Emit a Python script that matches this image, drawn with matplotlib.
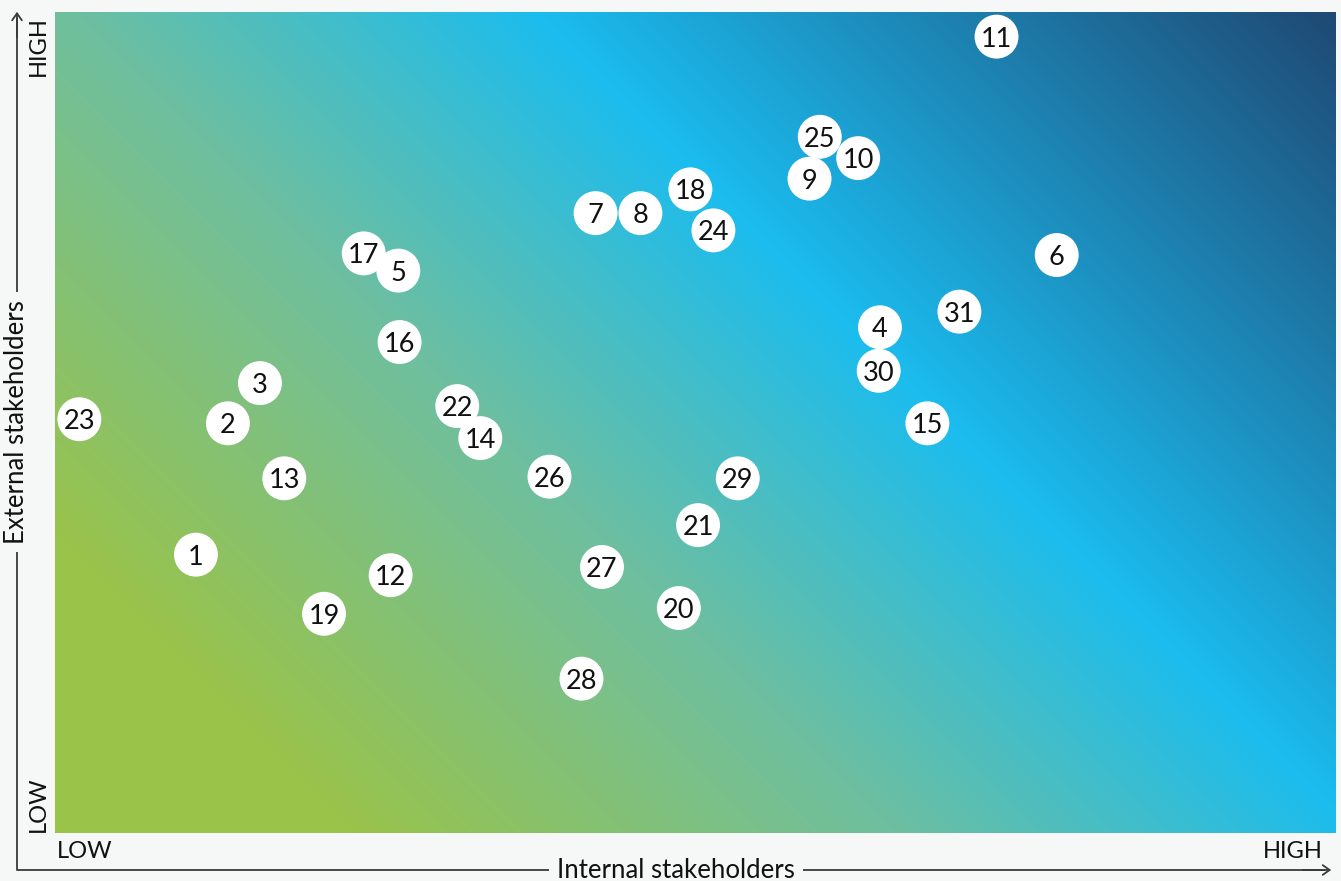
import matplotlib.pyplot as plt
import numpy as np

# Issue ids and their position (internal, external) on a 0-100 scale
labels = [str(i) for i in range(1, 32)]
internal = [11.0, 13.5, 16.0, 64.4, 26.8, 78.2, 42.2, 45.7, 58.9, 62.7,
            73.5, 26.2, 17.9, 33.2, 68.1, 26.9, 24.1, 49.6, 21.0, 48.7,
            50.2, 31.4, 1.9, 51.4, 59.7, 38.6, 42.7, 41.1, 53.3, 64.3, 70.6]
external = [33.9, 49.9, 54.8, 61.6, 68.5, 70.4, 75.5, 75.5, 79.7, 82.2,
            97.0, 31.4, 43.2, 48.1, 49.9, 59.8, 70.6, 78.4, 26.7, 27.4,
            37.5, 52.0, 50.4, 73.4, 84.8, 43.4, 32.4, 18.8, 43.2, 56.3, 63.5]

BG = "#f6f7f7"
FONT = ["Lato", "DejaVu Sans"]
plt.rcParams["font.family"] = FONT

W, H = 1341, 881
fig = plt.figure(figsize=(W / 100, H / 100), dpi=100, facecolor=BG)

# plot area in pixels
x0, x1, ytop, ybot = 55, 1336, 12, 833
ax = fig.add_axes([x0 / W, (H - ybot) / H, (x1 - x0) / W, (ybot - ytop) / H])

# 45 degree gradient: green -> cyan -> navy
pw, ph = x1 - x0, ybot - ytop
gx, gy = np.meshgrid(np.arange(pw), np.arange(ph)[::-1])
t = (gx + gy) / (pw + ph)
stops = [0.0, 0.14, 0.40, 0.62, 1.0]
cols = np.array([[154, 195, 74], [154, 195, 74], [110, 191, 160],
                 [27, 188, 239], [31, 72, 115]]) / 255
img = np.dstack([np.interp(t, stops, cols[:, c]) for c in range(3)])
ax.imshow(img, extent=[0, 100, 0, 100], aspect="auto", zorder=0)

ax.scatter(internal, external, s=1000, color="white", edgecolors="none", zorder=2)
for lab, xv, yv in zip(labels, internal, external):
    ax.text(xv, yv, lab, ha="center", va="center_baseline", fontsize=19.5,
            color="#111111", zorder=3)

ax.set_xlim(0, 100)
ax.set_ylim(0, 100)
ax.set_axis_off()

# overlay for the axis arrows and labels, in pixel coordinates
ov = fig.add_axes([0, 0, 1, 1], facecolor="none")
ov.set_xlim(0, W)
ov.set_ylim(H, 0)
ov.set_axis_off()

lc = "#3a3a3a"
ov.plot([17, 17, 1325], [18, 870, 870], color=lc, lw=1.3, solid_capstyle="butt")
ov.annotate("", xy=(17, 9), xytext=(17, 40),
            arrowprops=dict(arrowstyle="->,head_length=0.5,head_width=0.35",
                            color=lc, lw=1.3))
ov.annotate("", xy=(1334, 870), xytext=(1300, 870),
            arrowprops=dict(arrowstyle="->,head_length=0.5,head_width=0.35",
                            color=lc, lw=1.3))

box = dict(facecolor=BG, edgecolor="none", pad=6)
ov.text(676, 870, "Internal stakeholders", ha="center", va="center",
        fontsize=18.5, color="#111111", bbox=box)
ov.text(17, 422, "External stakeholders", ha="center", va="center",
        rotation=90, fontsize=18.5, color="#111111", bbox=box)

ov.text(57, 852, "LOW", ha="left", va="center", fontsize=17, color="#111111")
ov.text(1323, 852, "HIGH", ha="right", va="center", fontsize=17, color="#111111")
ov.text(38, 832, "LOW", ha="center", va="bottom", rotation=90, fontsize=17,
        color="#111111")
ov.text(38, 16, "HIGH", ha="center", va="top", rotation=90, fontsize=17,
        color="#111111")

fig.savefig("out.png", dpi=100, facecolor=BG)
